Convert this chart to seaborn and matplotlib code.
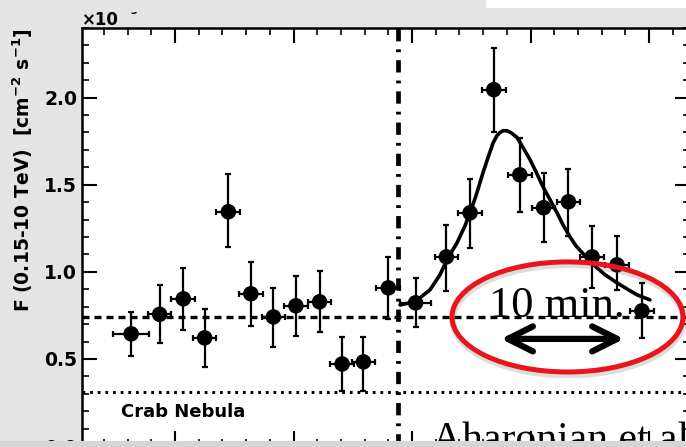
import matplotlib
matplotlib.use("Agg")
import matplotlib.pyplot as plt
import matplotlib.patheffects as pe
from matplotlib.patches import Ellipse, Rectangle
from matplotlib.ticker import MultipleLocator, FormatStrFormatter
import seaborn as sns
import pandas as pd
import numpy as np

# ---------------- data ----------------
time_min = [6.3, 8.7, 10.7, 12.5, 14.5, 16.4, 18.3, 20.2, 22.2, 24.1, 25.9, 28.0,
            30.3, 32.9, 34.9, 36.9, 39.1, 41.1, 43.2, 45.2, 47.3, 49.4]
time_err = [1.5, 1.0, 1.0, 1.0, 1.0, 1.0, 1.0, 1.0, 1.0, 1.0, 1.0, 1.0,
            1.3, 1.0, 1.0, 1.0, 1.0, 1.0, 1.0, 1.0, 1.0, 1.0]
flux = [0.644, 0.756, 0.845, 0.621, 1.345, 0.874, 0.741, 0.805, 0.828, 0.471, 0.483, 0.908,
        0.822, 1.086, 1.339, 2.046, 1.557, 1.368, 1.402, 1.086, 1.040, 0.776]
flux_lo = [0.517, 0.592, 0.667, 0.454, 1.144, 0.690, 0.569, 0.632, 0.655, 0.316, 0.316, 0.730,
           0.684, 0.891, 1.138, 1.805, 1.345, 1.172, 1.207, 0.908, 0.897, 0.621]
flux_hi = [0.770, 0.925, 1.020, 0.787, 1.563, 1.057, 0.908, 0.977, 1.006, 0.626, 0.626, 1.086,
           0.966, 1.270, 1.534, 2.287, 1.770, 1.569, 1.592, 1.264, 1.207, 0.937]

fit_t = [28.99, 30.25, 31.52, 32.36, 32.95, 33.80, 34.47, 34.89, 35.40, 35.99, 36.41,
         36.84, 37.17, 37.43, 37.68, 38.02, 38.35, 38.86, 39.37, 39.96, 40.46, 41.05,
         41.65, 42.24, 42.74, 43.33, 43.84, 44.43, 45.02, 45.61, 46.29, 47.30, 48.14,
         48.99, 50.08]
fit_f = [0.810, 0.828, 0.897, 0.983, 1.069, 1.167, 1.264, 1.339, 1.437, 1.569, 1.655,
         1.740, 1.782, 1.800, 1.810, 1.810, 1.799, 1.772, 1.713, 1.644, 1.575, 1.489,
         1.414, 1.339, 1.270, 1.201, 1.149, 1.105, 1.063, 1.023, 0.983, 0.937, 0.902,
         0.868, 0.839]

mean_level = 0.741
crab_level = 0.31
flare_start = 28.82
y_ticks = [0.0, 0.5, 1.0, 1.5, 2.0]

# ---------------- figure ----------------
sns.set_theme(style="ticks")
plt.rcParams["font.family"] = ["DejaVu Sans"]
plt.rcParams["mathtext.default"] = "bf"
for k in ["text.color", "axes.labelcolor", "xtick.color", "ytick.color", "axes.edgecolor"]:
    plt.rcParams[k] = "black"

W, H = 686, 447
fig = plt.figure(figsize=(W / 100, H / 100), dpi=100, facecolor="#e4e4e4")
ax = fig.add_axes([82 / W, (H - 446) / H, (690 - 82) / W, (446 - 28) / H])
ax.set_facecolor("white")
ax.set_xlim(2.15, 53.46)
ax.set_ylim(0, 2.4)

df = pd.DataFrame({"t": time_min, "f": flux})
yerr = [np.array(flux) - np.array(flux_lo), np.array(flux_hi) - np.array(flux)]
ax.errorbar(time_min, flux, yerr=yerr, xerr=time_err, fmt="none", ecolor="black",
            elinewidth=1.6, capsize=2.5, capthick=1.6, zorder=3)
sns.scatterplot(data=df, x="t", y="f", s=125, color="black", edgecolor="none",
                ax=ax, zorder=4, legend=False)
sns.lineplot(x=fit_t, y=fit_f, color="black", lw=2.6, ax=ax, sort=False, zorder=5,
             solid_joinstyle="round")

ax.axhline(mean_level, color="black", lw=2.4, dashes=(2.1, 1.5), zorder=2)
ax.axhline(crab_level, color="black", lw=2.2, dashes=(0.9, 1.6), zorder=2)
ax.axvline(flare_start, color="black", lw=3.4, dashes=(2.6, 1.7, 0.6, 1.7), zorder=2)

ax.set_xlabel("")
ax.set_ylabel(r"F (0.15-10 TeV)  [cm$^{-2}$ s$^{-1}$]", fontsize=13.5, fontweight="bold")
ax.yaxis.label.set_ha("center")
ax.yaxis.label.set_va("center")
ax.yaxis.set_label_coords(-0.097, 0.66)

ax.xaxis.set_major_locator(MultipleLocator(10))
ax.xaxis.set_minor_locator(MultipleLocator(2))
ax.set_yticks(y_ticks)
ax.yaxis.set_minor_locator(MultipleLocator(0.1))
ax.yaxis.set_major_formatter(FormatStrFormatter("%.1f"))
ax.tick_params(which="both", direction="in", top=True, right=True, bottom=True, left=True,
               labelbottom=False, labeltop=False, labelright=False, color="black",
               labelcolor="black")
ax.tick_params(which="major", length=10.8, width=1.5, pad=3.5, labelsize=13.5)
ax.tick_params(which="minor", length=5.0, width=1.2)
for lab in ax.get_yticklabels():
    lab.set_fontweight("bold")
for s in ax.spines.values():
    s.set_linewidth(1.8)
    s.set_color("black")

ax.text(5.44, 0.167, "Crab Nebula", fontsize=13, fontweight="bold", ha="left", va="baseline")

# slide annotations
ell = Ellipse((43.12, 0.741), width=19.49, height=0.632, fill=False, ec="#e8161c", lw=3.6,
              zorder=10, clip_on=False,
              path_effects=[pe.SimpleLineShadow(offset=(0.5, -2.0), shadow_color="0.4",
                                                alpha=0.22, linewidth=5), pe.Normal()])
ax.add_patch(ell)
ax.text(42.24, 0.741, "10 min.", family="Liberation Serif", fontsize=32,
        ha="center", va="baseline", zorder=11)
ax.annotate("", xy=(37.5, 0.615), xytext=(47.9, 0.615),
            arrowprops=dict(arrowstyle="<->,head_length=0.9,head_width=0.45", lw=4.5,
                            color="black", mutation_scale=20, shrinkA=0, shrinkB=0),
            zorder=11)
ax.text(31.69, -0.029, "Aharonian et al.", family="Liberation Serif", fontsize=30,
        ha="left", va="baseline", clip_on=False, zorder=11)

fig.text(82 / W, 1 - 25 / H, "×10", fontsize=12, fontweight="bold", ha="left", va="baseline")
fig.text(122 / W, 1 - 14 / H, "−9", fontsize=8, fontweight="bold", ha="left", va="baseline")

# slide chrome
fig.add_artist(Rectangle((0, 1 - 12 / H), 486 / W, 12 / H, transform=fig.transFigure,
                         facecolor="#e4e4e4", edgecolor="none", zorder=20))
fig.add_artist(Rectangle((486 / W, 1 - 8 / H), 200 / W, 8 / H, transform=fig.transFigure,
                         facecolor="white", edgecolor="none", zorder=20))
fig.add_artist(Rectangle((0, 0), 1, 6 / H, transform=fig.transFigure,
                         facecolor="#d6d6d6", edgecolor="none", zorder=20))

fig.savefig("out.png", dpi=100, facecolor=fig.get_facecolor())
